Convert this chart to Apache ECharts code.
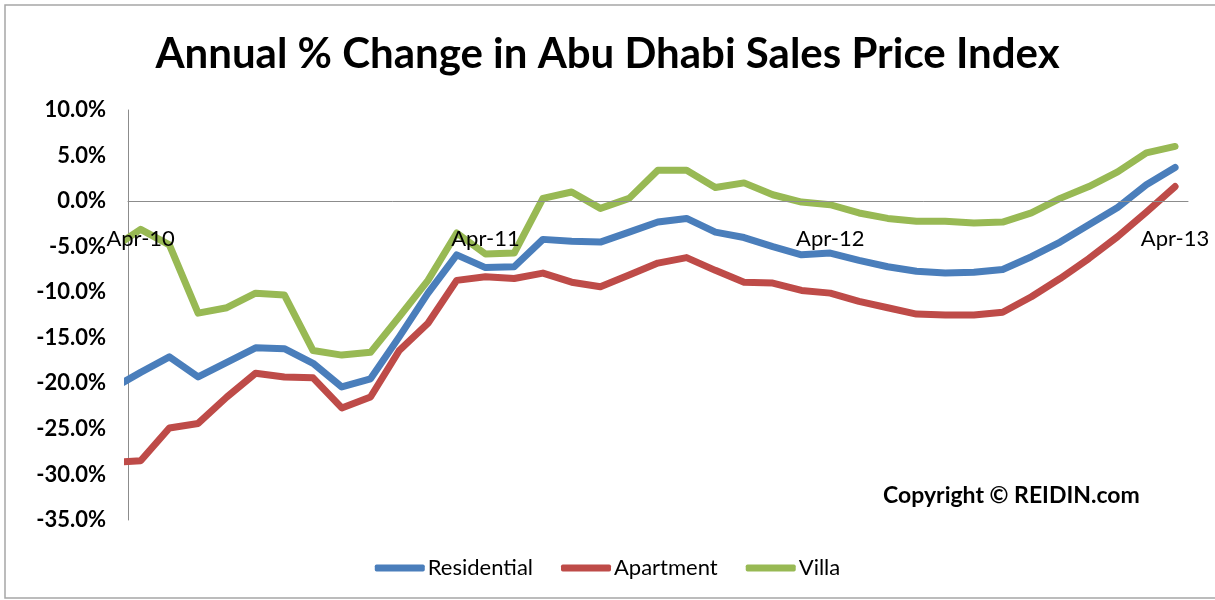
<!DOCTYPE html>
<html>
<head>
<meta charset="utf-8">
<script src="https://cdn.jsdelivr.net/npm/echarts@6/dist/echarts.min.js"></script>
<style>
  html, body { margin: 0; padding: 0; background: #fff; }
  #main { width: 1215px; height: 600px; }
</style>
</head>
<body>
<div id="main"></div>
<script>
// months from Mar-10 (index -1) to Apr-13 (index 36); axis starts just before Apr-10
const monthIndex = [-1, 0, 1, 2, 3, 4, 5, 6, 7, 8, 9, 10, 11, 12, 13, 14, 15, 16, 17, 18,
  19, 20, 21, 22, 23, 24, 25, 26, 27, 28, 29, 30, 31, 32, 33, 34, 35, 36];
const tickMonths = [0, 12, 24, 36];
const tickLabels = ['Apr-10', 'Apr-11', 'Apr-12', 'Apr-13'];

const residential = [-20.6, -18.8, -17.1, -19.3, -17.7, -16.1, -16.2, -17.8, -20.4, -19.5, -14.9,
  -10.1, -5.9, -7.3, -7.2, -4.2, -4.4, -4.5, -3.4, -2.3, -1.9, -3.4, -4.0, -5.0, -5.9, -5.7,
  -6.5, -7.2, -7.7, -7.9, -7.8, -7.5, -6.1, -4.5, -2.6, -0.7, 1.8, 3.7];
const apartment = [-28.7, -28.5, -24.9, -24.4, -21.5, -18.9, -19.3, -19.4, -22.7, -21.5, -16.4,
  -13.4, -8.7, -8.3, -8.5, -7.9, -8.9, -9.4, -8.1, -6.8, -6.2, -7.6, -8.9, -9.0, -9.8, -10.1,
  -11.0, -11.7, -12.4, -12.5, -12.5, -12.2, -10.5, -8.5, -6.3, -3.9, -1.2, 1.6];
const villa = [-5.2, -3.1, -4.8, -12.3, -11.7, -10.1, -10.3, -16.4, -16.9, -16.6, -12.7,
  -8.7, -3.5, -5.8, -5.7, 0.3, 1.0, -0.8, 0.3, 3.4, 3.4, 1.5, 2.0, 0.7, -0.1, -0.4,
  -1.3, -1.9, -2.2, -2.2, -2.4, -2.3, -1.3, 0.3, 1.6, 3.2, 5.3, 6.0];

const FONT = 'Lato, "Open Sans", sans-serif';

function pairs(vals) {
  return vals.map((v, i) => [monthIndex[i], v]);
}

function lineSeries(name, vals, color) {
  return {
    name: name,
    type: 'line',
    data: pairs(vals),
    symbol: 'none',
    clip: true,
    lineStyle: { width: 7, color: color, cap: 'round', join: 'round' },
    itemStyle: { color: color }
  };
}

const myChart = echarts.init(document.getElementById('main'));
const option = {
  animation: false,
  backgroundColor: '#fff',
  title: {
    text: 'Annual % Change in Abu Dhabi Sales Price Index',
    left: 'center',
    top: 28,
    textStyle: { fontFamily: FONT, fontSize: 42, fontWeight: 'bold', color: '#000' }
  },
  legend: {
    bottom: 16,
    left: 'center',
    itemWidth: 50,
    itemHeight: 7,
    itemGap: 28,
    icon: 'roundRect',
    textStyle: { fontFamily: FONT, fontSize: 22, color: '#000', padding: [0, 0, 0, -2] },
    data: ['Residential', 'Apartment', 'Villa']
  },
  grid: { left: 128, right: 27, top: 110, bottom: 80 },
  xAxis: {
    type: 'value',
    min: -0.44,
    max: 36.45,
    z: 10, // labels sit on top of the lines, as in the original
    axisLine: { onZero: true, lineStyle: { color: '#8c8c8c', width: 1 } },
    axisTick: { show: false },
    splitLine: { show: false },
    axisLabel: {
      customValues: tickMonths,
      margin: -292,
      fontFamily: FONT,
      fontSize: 22,
      color: '#000',
      formatter: function (v) {
        const k = tickMonths.indexOf(Math.round(v));
        return k >= 0 ? tickLabels[k] : '';
      }
    }
  },
  yAxis: {
    type: 'value',
    min: -35,
    max: 10,
    interval: 5,
    axisLine: { show: true, onZero: false, lineStyle: { color: '#8c8c8c', width: 1 } },
    axisTick: { show: false },
    splitLine: { show: false },
    axisLabel: {
      margin: 22,
      fontFamily: FONT,
      fontSize: 22,
      fontWeight: 'bold',
      color: '#000',
      formatter: function (v) { return v.toFixed(1) + '%'; }
    }
  },
  graphic: [
    {
      type: 'rect',
      shape: { x: 5, y: 5, width: 1220, height: 593 },
      style: { fill: 'none', stroke: '#a6a6a6', lineWidth: 1.5 },
      silent: true
    },
    {
      type: 'text',
      left: 883,
      top: 484,
      style: {
        text: 'Copyright \u00a9 REIDIN.com',
        fontFamily: FONT,
        fontSize: 23,
        fontWeight: 'bold',
        fill: '#000'
      }
    }
  ],
  series: [
    lineSeries('Residential', residential, '#4a7ebb'),
    lineSeries('Apartment', apartment, '#be4b48'),
    lineSeries('Villa', villa, '#98b954')
  ]
};
myChart.setOption(option);
</script>
</body>
</html>
